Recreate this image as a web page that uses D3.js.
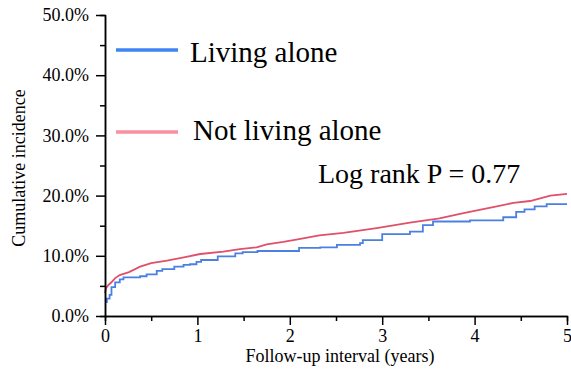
<!DOCTYPE html>
<html>
<head>
<meta charset="utf-8">
<script src="https://cdn.jsdelivr.net/npm/d3@7"></script>
<style>
  html, body { margin: 0; padding: 0; background: #fff; }
  svg { display: block; }
  svg text { font-family: "Liberation Serif", "Times New Roman", serif !important; fill: #000; }
</style>
</head>
<body>
<svg id="chart" width="571" height="379"></svg>
<script>
// ---- data (years, cumulative incidence) ----
const livingAloneX = [0, 0.02, 0.05, 0.07, 0.11, 0.16, 0.2, 0.38, 0.45, 0.56, 0.62, 0.75, 0.85, 0.92, 0.99, 1.04, 1.22, 1.41, 1.49, 1.65, 2.1, 2.33, 2.51, 2.76, 2.79, 3.0, 3.3, 3.44, 3.55, 3.95, 4.31, 4.45, 4.54, 4.65, 4.78, 5.0];
const livingAloneY = [0.023, 0.029, 0.035, 0.048, 0.056, 0.061, 0.064, 0.066, 0.069, 0.075, 0.078, 0.082, 0.085, 0.086, 0.090, 0.093, 0.099, 0.104, 0.106, 0.108, 0.113, 0.114, 0.118, 0.121, 0.126, 0.136, 0.140, 0.151, 0.157, 0.159, 0.164, 0.173, 0.177, 0.182, 0.186, 0.186];
const notAloneX = [0, 0.01, 0.04, 0.07, 0.11, 0.16, 0.26, 0.38, 0.5, 0.67, 0.84, 1.03, 1.28, 1.46, 1.64, 1.75, 1.93, 2.07, 2.32, 2.58, 2.94, 3.3, 3.62, 3.88, 4.24, 4.42, 4.6, 4.82, 5.0];
const notAloneY = [0.038, 0.046, 0.052, 0.056, 0.063, 0.068, 0.073, 0.082, 0.088, 0.092, 0.097, 0.103, 0.107, 0.111, 0.114, 0.119, 0.123, 0.127, 0.134, 0.138, 0.146, 0.155, 0.162, 0.171, 0.182, 0.188, 0.191, 0.200, 0.203];
const seriesNames = ["Living alone", "Not living alone"];
const xTicks = [0, 1, 2, 3, 4, 5];
const xMinorTicks = [0.5, 1.5, 2.5, 3.5, 4.5];
const yTicks = [0, 0.1, 0.2, 0.3, 0.4, 0.5];
const yMinorTicks = [0.05, 0.15, 0.25, 0.35, 0.45];
const xTitle = "Follow-up interval (years)";
const yTitle = "Cumulative incidence";
const annotation = "Log rank P = 0.77";

const svg = d3.select("#chart");
const x = d3.scaleLinear().domain([0, 5]).range([105, 567]);
const y = d3.scaleLinear().domain([0, 0.5]).range([316, 15]);

// curves
const blueData = livingAloneX.map((d, i) => [d, livingAloneY[i]]);
const redData = notAloneX.map((d, i) => [d, notAloneY[i]]);

svg.append("path")
  .datum(redData)
  .attr("fill", "none")
  .attr("stroke", "#e0506a")
  .attr("stroke-width", 1.8)
  .attr("d", d3.line().x(d => x(d[0])).y(d => y(d[1])).curve(d3.curveLinear));

svg.append("path")
  .datum(blueData)
  .attr("fill", "none")
  .attr("stroke", "#4a80e2")
  .attr("stroke-width", 1.8)
  .attr("d", d3.line().x(d => x(d[0])).y(d => y(d[1])).curve(d3.curveStepAfter));

// axes
function styleAxis(g) {
  g.attr("font-family", "'Liberation Serif', serif").attr("font-size", 18);
  g.select(".domain").attr("stroke", "#000").attr("stroke-width", 1.5);
  g.selectAll(".tick line").attr("stroke", "#000").attr("stroke-width", 1.5);
  g.selectAll(".tick text").attr("fill", "#000");
}

const xAxisMinor = svg.append("g").attr("transform", "translate(0,316)")
  .call(d3.axisBottom(x).tickValues(xMinorTicks).tickSize(5).tickFormat(""));
styleAxis(xAxisMinor);
const xAxis = svg.append("g").attr("transform", "translate(0,316)")
  .call(d3.axisBottom(x).tickValues(xTicks).tickSize(9).tickSizeOuter(0).tickPadding(4).tickFormat(d3.format("d")));
styleAxis(xAxis);

const yAxisMinor = svg.append("g").attr("transform", "translate(105,0)")
  .call(d3.axisLeft(y).tickValues(yMinorTicks).tickSize(5).tickFormat(""));
styleAxis(yAxisMinor);
const yAxis = svg.append("g").attr("transform", "translate(105,0)")
  .call(d3.axisLeft(y).tickValues(yTicks).tickSize(9).tickSizeOuter(0).tickPadding(7).tickFormat(d3.format(".1%")));
styleAxis(yAxis);

// titles
svg.append("text")
  .attr("x", 340).attr("y", 362)
  .attr("text-anchor", "middle")
  .attr("font-size", 18)
  .text(xTitle);

svg.append("text")
  .attr("transform", "translate(25,168) rotate(-90)")
  .attr("text-anchor", "middle")
  .attr("font-size", 18)
  .text(yTitle);

// legend
const legendColors = ["#3f84f3", "#f7919f"];
const legendY = [50, 132];
const legendTextX = [190, 193];
const legendTextY = [62, 140];
seriesNames.forEach((name, i) => {
  svg.append("line")
    .attr("x1", 116).attr("x2", 178)
    .attr("y1", legendY[i]).attr("y2", legendY[i])
    .attr("stroke", legendColors[i]).attr("stroke-width", 3.5);
  svg.append("text")
    .attr("x", legendTextX[i]).attr("y", legendTextY[i])
    .attr("font-size", 29)
    .text(name);
});

svg.append("text")
  .attr("x", 318).attr("y", 183)
  .attr("font-size", 28)
  .text(annotation);
</script>
</body>
</html>
